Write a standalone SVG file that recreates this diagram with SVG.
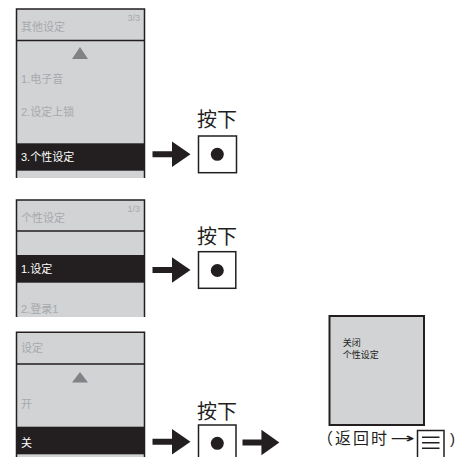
<svg xmlns="http://www.w3.org/2000/svg" width="458" height="457" viewBox="0 0 458 457">
<style>
text{font-family:"Liberation Sans","Noto Sans CJK SC",sans-serif}
.bg{fill:#d1d3d4}
.bd{stroke:#231f20;stroke-width:1.5;fill:none}
.hl{fill:#231f20}
.gt{fill:#a7a9ac;font-size:11px}
.wt{fill:#ffffff;font-size:11px}
.pg{fill:#a7a9ac;font-size:9px;text-anchor:end}
.tri{fill:#808285}
.press{fill:#231f20;font-size:20px;text-anchor:middle}
.btn{fill:#ffffff;stroke:#231f20;stroke-width:1.5}
.dot{fill:#231f20}
.arr{fill:#231f20}
</style>
<defs>
<path id="arrow" d="M0,-3 H19.5 V-12.7 L38,0 L19.5,12.7 V3 H0 Z"/>
</defs>
<g id="screen1">
<rect class="bg" x="16.5" y="9" width="128" height="169"/>
<path class="bd" d="M16.5,178 V9 H144.5 V178 M16.5,40.5 H144.5"/>
<text class="gt" x="21" y="31">其他设定</text>
<text class="pg" x="140" y="21">3/3</text>
<polygon class="tri" points="80,47 72,59 88,59"/>
<text class="gt" x="21" y="83">1.电子音</text>
<text class="gt" x="21" y="116">2.设定上锁</text>
<rect class="hl" x="16" y="143.3" width="129" height="27.4"/>
<text class="wt" x="21" y="161">3.个性设定</text>
</g>
<g id="screen2">
<rect class="bg" x="16.5" y="200" width="128" height="117"/>
<path class="bd" d="M16.5,317 V200 H144.5 V317 M16.5,231 H144.5"/>
<text class="gt" x="21" y="222">个性设定</text>
<text class="pg" x="140" y="212">1/3</text>
<rect class="hl" x="16" y="255" width="129" height="27.7"/>
<text class="wt" x="21" y="273">1.设定</text>
<text class="gt" x="21" y="313">2.登录1</text>
</g>
<g id="screen3">
<rect class="bg" x="16.5" y="332.3" width="128" height="125"/>
<path class="bd" d="M16.5,457 V332.3 H144.5 V457 M16.5,364 H144.5"/>
<text class="gt" x="21" y="352">设定</text>
<polygon class="tri" points="80,372 72,382.5 88,382.5"/>
<text class="gt" x="21" y="408">开</text>
<rect class="hl" x="16" y="426.7" width="129" height="27.6"/>
<text class="wt" x="21" y="447">关</text>
</g>
<g id="button1">
<text class="press" x="217" y="127">按下</text>
<rect class="btn" x="198.5" y="136" width="38" height="36.7"/>
<circle class="dot" cx="217.3" cy="154.3" r="6.5"/>
</g>
<g id="button2">
<text class="press" x="217" y="244">按下</text>
<rect class="btn" x="198.5" y="251.7" width="37.3" height="36.6"/>
<circle class="dot" cx="217.3" cy="270.5" r="6.5"/>
</g>
<g id="button3">
<text class="press" x="217" y="419">按下</text>
<rect class="btn" x="198.5" y="425" width="37.5" height="40"/>
<circle class="dot" cx="217.3" cy="443.3" r="6.5"/>
</g>
<g id="result">
<rect x="329.5" y="316" width="94.5" height="109" fill="#d1d3d4" stroke="#231f20" stroke-width="2"/>
<text x="342.7" y="346" font-size="9" fill="#231f20">关闭</text>
<text x="342.7" y="358.3" font-size="9" fill="#231f20">个性设定</text>
</g>
<g id="return-note">
<text x="317" y="444" font-size="16" letter-spacing="2" fill="#231f20">（返回时<tspan x="390" y="443" font-family="DejaVu Sans" font-size="14" letter-spacing="0" textLength="25" lengthAdjust="spacingAndGlyphs">→</tspan></text>
<rect x="417.5" y="430.5" width="26.5" height="30" fill="#ffffff" stroke="#231f20" stroke-width="1.5"/>
<path d="M422,437.3 H439.5 M422,442.7 H439.5 M422,448.3 H439.5" stroke="#231f20" stroke-width="1.6"/>
<text x="450" y="444" font-size="15" fill="#231f20">)</text>
</g>
<g id="connectors">
<use href="#arrow" class="arr" x="152.5" y="154.3"/>
<use href="#arrow" class="arr" x="152.5" y="270"/>
<use href="#arrow" class="arr" x="152.5" y="441.7"/>
<use href="#arrow" class="arr" x="242.5" y="442.5" transform="translate(242.5 442.5) scale(0.97 1) translate(-242.5 -442.5)"/>
</g>
</svg>
